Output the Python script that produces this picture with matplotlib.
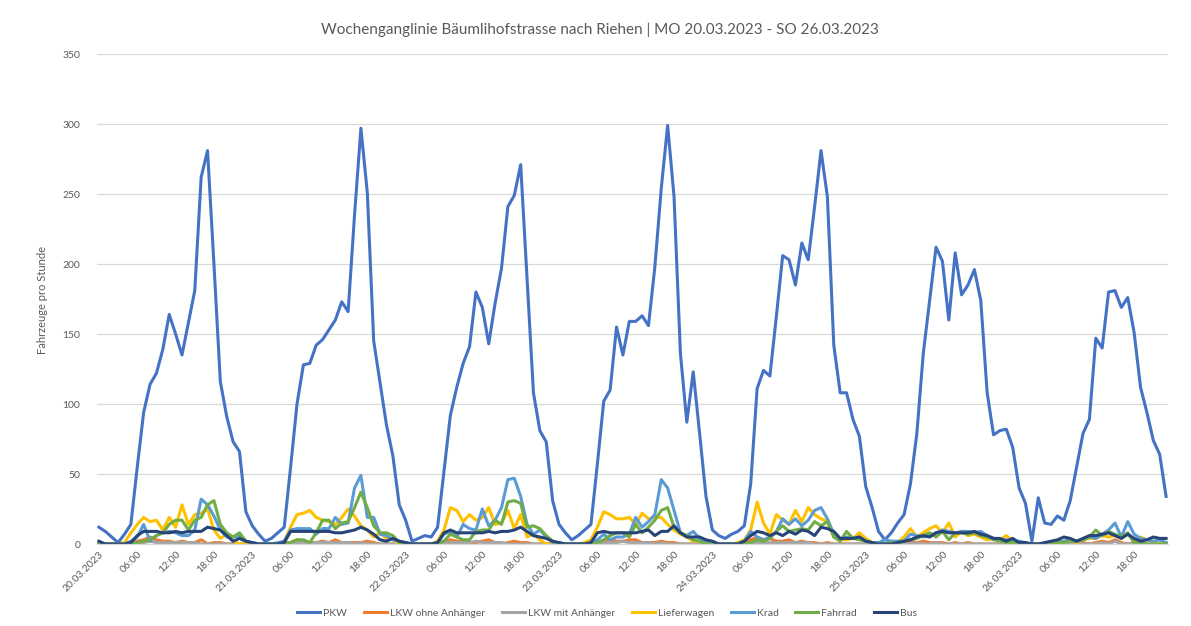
import matplotlib
matplotlib.use("Agg")
import matplotlib.pyplot as plt
import numpy as np

plt.rcParams['font.family'] = ['Lato', 'DejaVu Sans']

title = "Wochenganglinie Bäumlihofstrasse nach Riehen | MO 20.03.2023 - SO 26.03.2023"
ylabel = "Fahrzeuge pro Stunde"
days = ["20.03.2023", "21.03.2023", "22.03.2023", "23.03.2023", "24.03.2023", "25.03.2023", "26.03.2023"]
hour_labels = ["06:00", "12:00", "18:00"]

pkw = [
    12, 9, 5, 1, 7, 14, 55, 94, 114, 122, 139, 164, 150, 135, 158, 181, 262, 281, 200, 116, 91, 73, 66, 23,
    13, 7, 2, 4, 8, 12, 55, 100, 128, 129, 142, 146, 153, 160, 173, 166, 235, 297, 251, 145, 115, 85, 63, 28,
    17, 2, 4, 6, 5, 12, 52, 92, 112, 129, 141, 180, 169, 143, 172, 197, 241, 249, 271, 190, 108, 81, 73, 31,
    14, 8, 3, 6, 10, 14, 57, 102, 110, 155, 135, 159, 159, 163, 156, 198, 254, 299, 248, 136, 87, 123, 79, 34,
    10, 6, 4, 7, 9, 13, 43, 111, 124, 120, 162, 206, 203, 185, 215, 203, 241, 281, 248, 142, 108, 108, 89, 77,
    41, 26, 9, 3, 8, 15, 21, 43, 79, 136, 174, 212, 202, 160, 208, 178, 185, 196, 174, 108, 78, 81, 82, 69,
    40, 29, 2, 33, 15, 14, 20, 17, 31, 55, 79, 89, 147, 140, 180, 181, 169, 176, 151, 112, 94, 74, 64, 34,
]
lkw_ohne = [
    0, 0, 0, 0, 0, 1, 2, 3, 5, 3, 2, 2, 1, 2, 1, 1, 3, 0, 1, 1, 0, 0, 0, 0,
    0, 0, 0, 0, 0, 1, 1, 3, 2, 1, 1, 2, 1, 3, 1, 1, 1, 1, 2, 1, 0, 0, 0, 0,
    0, 0, 0, 0, 0, 1, 2, 3, 2, 2, 1, 1, 2, 3, 1, 0, 1, 2, 1, 1, 0, 0, 0, 0,
    0, 0, 0, 0, 0, 1, 2, 2, 3, 2, 2, 3, 3, 1, 1, 1, 2, 1, 1, 0, 0, 0, 0, 0,
    0, 0, 0, 0, 0, 1, 3, 5, 3, 4, 2, 2, 3, 1, 2, 1, 1, 0, 1, 0, 0, 0, 0, 0,
    0, 0, 0, 0, 0, 0, 1, 2, 1, 2, 1, 1, 1, 0, 1, 0, 1, 0, 0, 0, 0, 0, 0, 0,
    0, 0, 0, 0, 0, 0, 0, 1, 0, 1, 1, 0, 1, 2, 1, 3, 1, 0, 1, 0, 0, 0, 0, 0,
]
lkw_mit = [
    0, 0, 0, 0, 0, 0, 1, 1, 2, 1, 1, 1, 1, 1, 1, 1, 0, 0, 0, 0, 0, 0, 0, 0,
    0, 0, 0, 0, 0, 0, 1, 1, 1, 1, 1, 1, 1, 1, 1, 1, 0, 1, 0, 0, 0, 0, 0, 0,
    0, 0, 0, 0, 0, 0, 1, 1, 1, 1, 1, 2, 1, 1, 1, 1, 0, 0, 0, 0, 0, 0, 0, 0,
    0, 0, 0, 0, 0, 0, 1, 1, 1, 1, 2, 1, 1, 1, 1, 0, 1, 0, 0, 0, 0, 0, 0, 0,
    0, 0, 0, 0, 0, 0, 1, 1, 1, 1, 1, 1, 1, 1, 1, 1, 0, 0, 0, 0, 0, 0, 0, 0,
    0, 0, 0, 0, 0, 0, 0, 0, 1, 0, 0, 1, 0, 0, 0, 0, 0, 0, 0, 0, 0, 0, 0, 0,
    0, 0, 0, 0, 0, 0, 0, 0, 0, 0, 0, 0, 0, 1, 0, 2, 0, 0, 0, 0, 0, 0, 0, 0,
]
lieferwagen = [
    0, 0, 0, 0, 1, 8, 14, 19, 16, 17, 10, 19, 12, 28, 14, 21, 22, 25, 10, 4, 7, 2, 0, 0,
    0, 0, 0, 0, 0, 2, 12, 21, 22, 24, 19, 17, 16, 14, 19, 25, 20, 13, 10, 5, 8, 4, 3, 0,
    0, 0, 0, 0, 0, 2, 10, 26, 24, 16, 21, 17, 19, 26, 14, 15, 24, 11, 21, 5, 7, 3, 0, 0,
    0, 0, 0, 0, 1, 3, 12, 23, 21, 18, 18, 19, 14, 22, 18, 19, 19, 14, 10, 7, 5, 2, 2, 1,
    0, 0, 0, 0, 1, 3, 10, 30, 15, 7, 21, 17, 14, 24, 16, 26, 21, 18, 16, 5, 3, 3, 4, 8,
    4, 1, 0, 0, 2, 1, 5, 11, 5, 8, 11, 13, 8, 15, 5, 9, 6, 7, 5, 3, 4, 3, 6, 2,
    0, 0, 0, 0, 0, 0, 1, 2, 3, 1, 3, 4, 4, 6, 5, 6, 4, 7, 2, 5, 3, 2, 2, 1,
]
krad = [
    0, 0, 0, 0, 0, 2, 5, 14, 2, 6, 8, 9, 8, 6, 6, 10, 32, 28, 20, 10, 5, 5, 6, 2,
    1, 0, 0, 0, 1, 2, 10, 11, 11, 11, 7, 11, 11, 19, 14, 15, 40, 49, 19, 19, 7, 6, 3, 2,
    1, 0, 0, 0, 0, 1, 7, 9, 5, 14, 11, 10, 25, 13, 17, 26, 46, 47, 34, 14, 7, 10, 5, 1,
    1, 0, 0, 0, 0, 1, 3, 7, 3, 5, 5, 7, 19, 12, 16, 21, 46, 40, 24, 8, 6, 9, 4, 2,
    1, 0, 0, 0, 0, 2, 9, 5, 3, 5, 9, 18, 14, 18, 13, 17, 24, 26, 18, 7, 3, 5, 4, 5,
    2, 1, 1, 3, 2, 2, 2, 7, 6, 5, 6, 8, 10, 9, 8, 9, 9, 8, 9, 6, 4, 3, 3, 2,
    2, 1, 0, 0, 0, 1, 2, 2, 3, 2, 3, 5, 4, 7, 10, 15, 5, 16, 7, 4, 3, 2, 3, 1,
]
fahrrad = [
    0, 0, 0, 0, 0, 0, 1, 2, 3, 6, 8, 14, 17, 17, 10, 17, 19, 28, 31, 14, 8, 5, 8, 2,
    0, 0, 0, 0, 0, 0, 1, 3, 3, 1, 8, 17, 17, 11, 15, 16, 26, 37, 26, 13, 8, 8, 6, 1,
    0, 0, 0, 0, 0, 0, 2, 7, 5, 3, 3, 9, 10, 10, 17, 14, 30, 31, 29, 12, 13, 11, 6, 2,
    0, 0, 0, 0, 0, 0, 1, 3, 6, 8, 8, 5, 14, 8, 12, 17, 24, 26, 12, 8, 6, 3, 2, 0,
    0, 0, 0, 0, 0, 0, 1, 3, 2, 4, 9, 13, 9, 10, 11, 10, 16, 13, 16, 5, 2, 9, 4, 3,
    2, 1, 0, 0, 1, 1, 2, 3, 4, 6, 8, 5, 9, 3, 8, 8, 7, 8, 6, 5, 3, 2, 1, 1,
    1, 0, 0, 0, 0, 0, 1, 1, 2, 2, 3, 5, 10, 6, 9, 7, 5, 8, 1, 1, 0, 0, 0, 0,
]
bus = [
    2, 0, 0, 0, 0, 1, 6, 9, 9, 9, 8, 8, 9, 8, 9, 9, 9, 12, 11, 10, 6, 2, 4, 2,
    1, 0, 0, 0, 0, 1, 9, 9, 9, 9, 9, 9, 9, 8, 8, 9, 10, 12, 10, 7, 3, 2, 4, 2,
    1, 0, 0, 0, 0, 1, 8, 10, 8, 8, 8, 8, 8, 9, 8, 9, 9, 10, 12, 9, 6, 5, 4, 2,
    1, 0, 0, 0, 0, 1, 8, 9, 8, 8, 8, 8, 8, 9, 10, 6, 9, 9, 13, 8, 5, 5, 5, 3,
    2, 0, 0, 0, 0, 2, 6, 9, 8, 6, 8, 6, 9, 7, 10, 9, 6, 12, 11, 9, 4, 4, 4, 5,
    2, 1, 0, 0, 0, 1, 2, 3, 5, 6, 5, 8, 9, 8, 8, 8, 8, 9, 7, 6, 4, 4, 2, 4,
    1, 1, 0, 0, 1, 2, 3, 5, 4, 2, 4, 6, 6, 7, 8, 6, 4, 7, 4, 2, 3, 5, 4, 4,
]

series_names = ["PKW", "LKW ohne Anhänger", "LKW mit Anhänger", "Lieferwagen", "Krad", "Fahrrad", "Bus"]
series_data = [pkw, lkw_ohne, lkw_mit, lieferwagen, krad, fahrrad, bus]
colors = ["#4472C4", "#ED7D31", "#A5A5A5", "#FFC000", "#5B9BD5", "#70AD47", "#264478"]

fig = plt.figure(figsize=(11.91, 6.26), dpi=100)
ax = fig.add_axes([97/1191, 1 - 544/626, (1168 - 97)/1191, (544 - 54)/626])

x = np.arange(len(pkw))
for name, data, c in zip(series_names, series_data, colors):
    ax.plot(x, data, color=c, lw=2.2, label=name, solid_joinstyle='round')

ax.set_ylim(0, 350)
ax.set_yticks(np.arange(0, 351, 50))
ax.set_xlim(-0.3, len(pkw) - 0.7)
ax.grid(axis='y', color='#D9D9D9', lw=0.9)
ax.set_axisbelow(True)
for s in ['top', 'right', 'left']:
    ax.spines[s].set_visible(False)
ax.spines['bottom'].set_color('#D9D9D9')
ax.spines['bottom'].set_linewidth(0.9)

ticks = []
labels = []
for d, day in enumerate(days):
    ticks.append(d * 24)
    labels.append(day)
    for i, hl in enumerate(hour_labels):
        ticks.append(d * 24 + 6 * (i + 1))
        labels.append(hl)
ax.set_xticks(ticks)
ax.set_xticklabels(labels, rotation=45, ha='right', rotation_mode='anchor')
ax.tick_params(axis='x', length=0, labelsize=7.5, labelcolor='#595959', pad=4)
ax.tick_params(axis='y', length=0, labelsize=7.5, labelcolor='#595959', pad=12)

fig.text(42/1191, 1 - 300/626, ylabel, rotation=90, ha='center', va='center', fontsize=8, color='#595959')
fig.text(600/1191, 1 - 30/626, title, ha='center', va='center', fontsize=11, color='#595959')

leg = fig.legend(loc='center', bbox_to_anchor=(607/1191, 1 - 613/626), ncol=7, frameon=False,
                 fontsize=7.5, handlelength=2.2, columnspacing=1.6, handletextpad=0.3)
for t in leg.get_texts():
    t.set_color('#595959')

fig.savefig("out.png", dpi=100, facecolor='white')
